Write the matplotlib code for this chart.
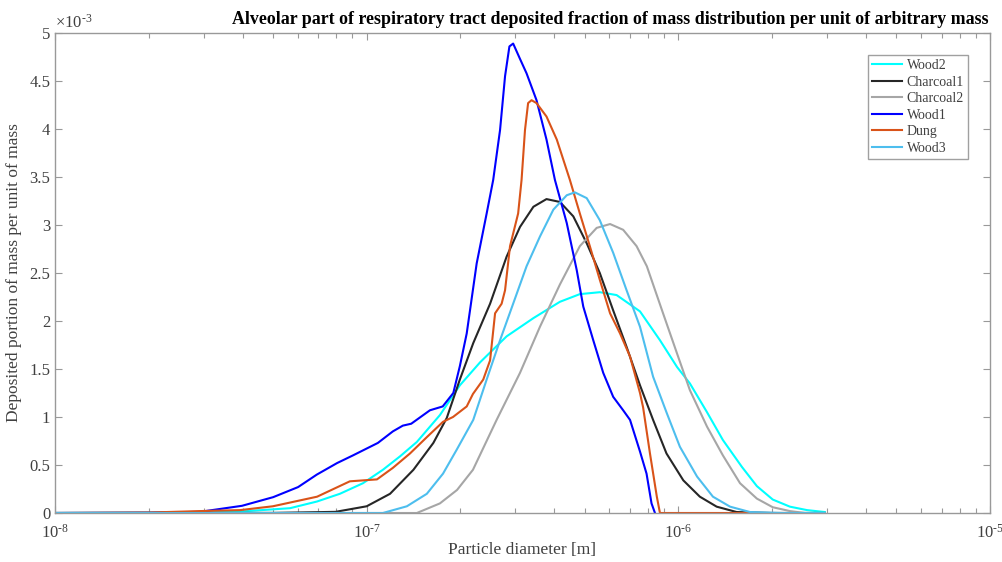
import numpy as np
import matplotlib
matplotlib.use("Agg")
import matplotlib.pyplot as plt
from matplotlib.ticker import LogLocator, FixedLocator, FuncFormatter, NullFormatter

plt.rcParams['font.family'] = ['Liberation Serif', 'DejaVu Serif']
plt.rcParams['mathtext.fontset'] = 'custom'
plt.rcParams['mathtext.rm'] = 'Liberation Serif'
plt.rcParams['mathtext.it'] = 'Liberation Serif:italic'
plt.rcParams['mathtext.bf'] = 'Liberation Serif:bold'

# log10 of particle diameter [m] and deposited portion (x 1e-3)
wood2_logd = [-8.0, -7.535, -7.406, -7.246, -7.159, -7.086, -7.012, -6.948, -6.893, -6.839,
              -6.765, -6.701, -6.636, -6.551, -6.465, -6.380, -6.316, -6.252, -6.198, -6.123,
              -6.059, -6.004, -5.963, -5.908, -5.857, -5.796, -5.748, -5.697, -5.642, -5.587,
              -5.53]
wood2_val = [0, 0.005, 0.015, 0.05, 0.12, 0.20, 0.31, 0.45, 0.59, 0.74,
             1.02, 1.33, 1.57, 1.84, 2.03, 2.20, 2.28, 2.30, 2.27, 2.10,
             1.80, 1.52, 1.35, 1.05, 0.76, 0.48, 0.28, 0.14, 0.066, 0.03,
             0.01]

charcoal1_logd = [-8.0, -7.30, -7.10, -7.0, -6.925, -6.850, -6.786, -6.743, -6.701, -6.658,
                  -6.604, -6.551, -6.508, -6.465, -6.423, -6.380, -6.337, -6.294, -6.252, -6.209,
                  -6.166, -6.123, -6.081, -6.038, -5.984, -5.931, -5.877, -5.813, -5.70, -5.53]
charcoal1_val = [0, 0.001, 0.012, 0.07, 0.20, 0.45, 0.73, 0.99, 1.39, 1.77,
                 2.18, 2.67, 2.98, 3.19, 3.27, 3.24, 3.09, 2.81, 2.50, 2.11,
                 1.73, 1.33, 0.97, 0.62, 0.34, 0.17, 0.066, 0.01, 0, 0]

charcoal2_logd = [-8.0, -6.839, -6.765, -6.710, -6.659, -6.583, -6.508, -6.444, -6.380, -6.316,
                  -6.262, -6.219, -6.177, -6.134, -6.101, -6.049, -6.004, -5.963, -5.908, -5.857,
                  -5.802, -5.748, -5.697, -5.642, -5.594, -5.53]
charcoal2_val = [0, 0, 0.10, 0.24, 0.45, 0.97, 1.46, 1.94, 2.38, 2.78,
                 2.97, 3.01, 2.95, 2.78, 2.57, 2.08, 1.66, 1.28, 0.90, 0.60,
                 0.31, 0.15, 0.06, 0.02, 0, 0]

wood1_logd = [-8.0, -7.70, -7.535, -7.40, -7.30, -7.22, -7.16, -7.095, -7.044, -6.964,
              -6.916, -6.884, -6.857, -6.797, -6.756, -6.722, -6.701, -6.679, -6.647, -6.615,
              -6.594, -6.572, -6.556, -6.542, -6.530, -6.508, -6.487, -6.455, -6.423, -6.396,
              -6.358, -6.326, -6.305, -6.273, -6.241, -6.209, -6.177, -6.155, -6.123, -6.102,
              -6.086, -6.075]
wood1_val = [0, 0.003, 0.012, 0.075, 0.165, 0.27, 0.40, 0.52, 0.60, 0.73,
             0.85, 0.91, 0.93, 1.07, 1.11, 1.25, 1.53, 1.87, 2.60, 3.12,
             3.47, 3.99, 4.55, 4.86, 4.89, 4.73, 4.58, 4.30, 3.89, 3.47,
             3.02, 2.53, 2.15, 1.80, 1.46, 1.21, 1.07, 0.97, 0.64, 0.41,
             0.10, 0]

dung_logd = [-8.0, -7.695, -7.535, -7.406, -7.301, -7.159, -7.054, -6.967, -6.916, -6.861,
             -6.807, -6.755, -6.723, -6.679, -6.659, -6.626, -6.604, -6.588, -6.567, -6.556,
             -6.540, -6.514, -6.503, -6.492, -6.482, -6.471, -6.455, -6.423, -6.390, -6.369,
             -6.348, -6.316, -6.284, -6.252, -6.219, -6.187, -6.155, -6.123, -6.113, -6.091,
             -6.069, -6.059, -5.53]
dung_val = [0, 0.005, 0.02, 0.03, 0.07, 0.17, 0.33, 0.35, 0.47, 0.62,
            0.79, 0.95, 1.0, 1.11, 1.24, 1.39, 1.59, 2.08, 2.18, 2.32,
            2.78, 3.12, 3.47, 3.99, 4.27, 4.30, 4.27, 4.13, 3.89, 3.68,
            3.47, 3.12, 2.78, 2.43, 2.08, 1.87, 1.63, 1.25, 1.10, 0.62,
            0.17, 0, 0]

wood3_logd = [-8.0, -6.948, -6.893, -6.871, -6.807, -6.755, -6.711, -6.658, -6.615, -6.572,
              -6.530, -6.487, -6.444, -6.401, -6.358, -6.332, -6.294, -6.252, -6.209, -6.166,
              -6.123, -6.081, -6.037, -5.995, -5.940, -5.889, -5.834, -5.770, -5.664, -5.53]
wood3_val = [0, 0, 0.05, 0.07, 0.20, 0.41, 0.66, 0.97, 1.39, 1.80,
             2.18, 2.57, 2.88, 3.16, 3.31, 3.34, 3.28, 3.05, 2.71, 2.32,
             1.94, 1.42, 1.04, 0.69, 0.38, 0.17, 0.066, 0.01, 0, 0]

series = [
    ('Wood2', wood2_logd, wood2_val, '#00FFFF'),
    ('Charcoal1', charcoal1_logd, charcoal1_val, '#262626'),
    ('Charcoal2', charcoal2_logd, charcoal2_val, '#A6A6A6'),
    ('Wood1', wood1_logd, wood1_val, '#0000FF'),
    ('Dung', dung_logd, dung_val, '#D95319'),
    ('Wood3', wood3_logd, wood3_val, '#4DBEEE'),
]

axis_col = '#999999'
text_col = '#404040'

fig = plt.figure(figsize=(10.03, 5.62), dpi=100)
ax = fig.add_axes([55 / 1003, 1 - 513 / 562, 935 / 1003, 480 / 562])

for name, logd, val, col in series:
    ax.plot(10 ** np.array(logd), val, color=col, lw=1.5, label=name)

ax.set_xscale('log')
ax.set_xlim(1e-8, 1e-5)
ax.set_ylim(0, 5)

ax.xaxis.set_major_locator(LogLocator(base=10, numticks=10))
ax.xaxis.set_minor_locator(LogLocator(base=10, subs=np.arange(2, 10), numticks=20))
ax.xaxis.set_major_formatter(FuncFormatter(
    lambda v, p: r'$10^{\text{-%d}}$' % abs(round(np.log10(v)))))
ax.xaxis.set_minor_formatter(NullFormatter())
ax.yaxis.set_major_locator(FixedLocator(np.arange(0, 5.01, 0.5)))
ax.yaxis.set_major_formatter(FuncFormatter(lambda v, p: ('%g' % v)))

for s in ax.spines.values():
    s.set_color(axis_col)
    s.set_linewidth(1.0)
ax.tick_params(which='both', direction='in', top=True, right=True, color=axis_col,
               labelcolor=text_col, labelsize=12, width=0.8)
ax.tick_params(which='major', length=5)
ax.tick_params(which='minor', length=3.5)
ax.tick_params(axis='x', pad=8)

ax.set_xlabel('Particle diameter [m]', fontsize=12.5, color=text_col, labelpad=0)
ax.set_ylabel('Deposited portion of mass per unit of mass', fontsize=12.5, color=text_col, labelpad=5)
ax.text(0.0, 1.002, r'$\times10^{\text{-3}}$', transform=ax.transAxes, ha='left', va='bottom',
        fontsize=12, color=text_col)

fig.text(610 / 1003, 1 - 19 / 562,
         'Alveolar part of respiratory tract deposited fraction of mass distribution per unit of arbitrary mass',
         ha='center', va='center', fontsize=12.9, fontweight='bold', color='black')

leg = ax.legend(loc='upper right', bbox_to_anchor=(0.9765, 0.954), borderaxespad=0,
                fancybox=False, framealpha=1, edgecolor='#a0a0a0', fontsize=10,
                handlelength=2.2, handletextpad=0.3, labelspacing=0.25, borderpad=0.3)
leg.get_frame().set_linewidth(1.0)
for t in leg.get_texts():
    t.set_color(text_col)

fig.savefig('out.png', dpi=100)
